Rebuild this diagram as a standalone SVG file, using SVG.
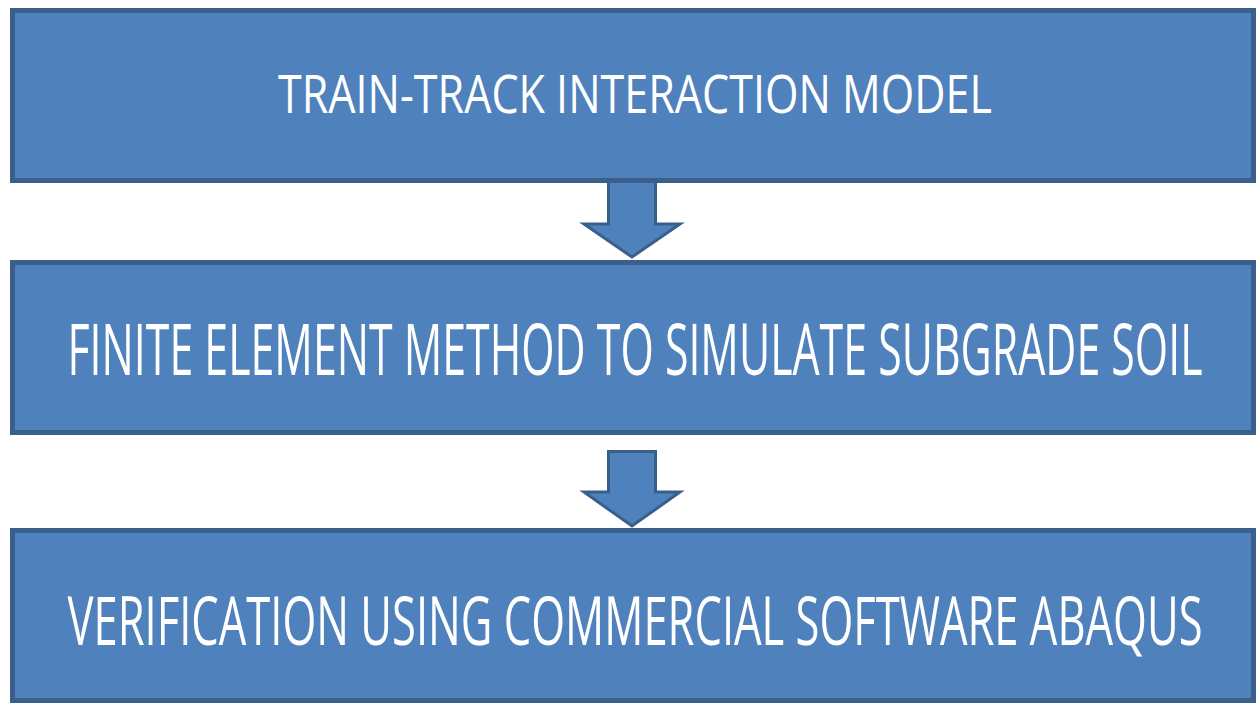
<svg xmlns="http://www.w3.org/2000/svg" width="1257" height="705" viewBox="0 0 1257 705">
  <style>
    .box { fill: #4F81BD; stroke: #3A5F8C; stroke-width: 5; }
    .arrow { fill: #4F81BD; stroke: #3A5F8C; stroke-width: 3; stroke-linejoin: miter; }
    .label { fill: #FFFFFF; font-family: "Open Sans", "Liberation Sans", sans-serif; text-anchor: middle; }
  </style>
  <rect width="1257" height="705" fill="#FFFFFF"/>
  <g id="connectors">
    <polygon class="arrow" points="608.5,180 655.5,180 655.5,224 680,224 632,257 584,224 608.5,224"/>
    <polygon class="arrow" points="608.5,451.5 655.5,451.5 655.5,492 680,492 632,526 584,492 608.5,492"/>
  </g>
  <g id="node1">
    <rect class="box" x="12.5" y="10.5" width="1241" height="170"/>
    <text class="label" x="635" y="113" font-size="53" textLength="714" lengthAdjust="spacingAndGlyphs">TRAIN-TRACK INTERACTION MODEL</text>
  </g>
  <g id="node2">
    <rect class="box" x="12.5" y="262.5" width="1241" height="170"/>
    <text class="label" x="635" y="375" font-size="72" textLength="1135" lengthAdjust="spacingAndGlyphs">FINITE ELEMENT METHOD TO SIMULATE SUBGRADE SOIL</text>
  </g>
  <g id="node3">
    <rect class="box" x="12.5" y="530.5" width="1241" height="170"/>
    <text class="label" x="635" y="645" font-size="67" textLength="1135" lengthAdjust="spacingAndGlyphs">VERIFICATION USING COMMERCIAL SOFTWARE ABAQUS</text>
  </g>
</svg>
